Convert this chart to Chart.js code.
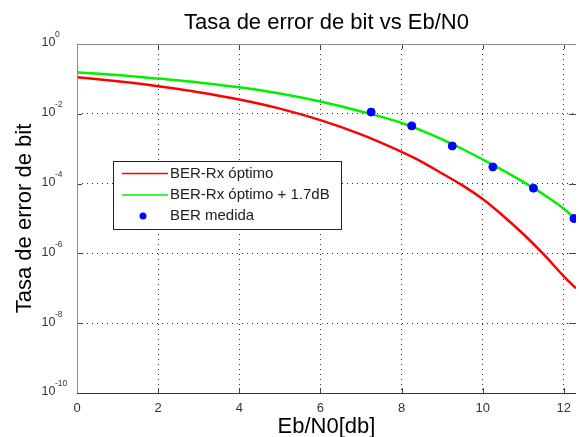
<!DOCTYPE html>
<html>
<head>
<meta charset="utf-8">
<title>Tasa de error de bit vs Eb/N0</title>
<script src="https://cdn.jsdelivr.net/npm/chart.js@4.4.0/dist/chart.umd.min.js"></script>
<style>
  html, body { margin: 0; padding: 0; background: #fff; overflow: hidden; }
</style>
</head>
<body>
<canvas id="ber-chart" width="581" height="437"></canvas>
<script>
// values
const ebn0 = [0, 1, 2, 3, 4, 5, 6, 7, 8, 8.5, 9, 9.5, 10, 10.5, 11, 11.5, 12, 12.3];
const berOptimo = [0.112, 0.0851, 0.0617, 0.0417, 0.0257, 0.0141, 0.0066, 0.00257, 8.1e-4, 4.2e-4, 1.95e-4, 8.9e-5, 3.6e-5, 1.2e-5, 3.6e-6, 9.5e-7, 2.2e-7, 1.0e-7];
const berOptimo17 = [0.155, 0.129, 0.102, 0.0794, 0.0575, 0.0380, 0.0224, 0.0117, 0.0055, 0.0033, 0.00186, 9.8e-4, 4.9e-4, 2.4e-4, 1.12e-4, 4.9e-5, 1.9e-5, 9.3e-6];
const ebn0Medida = [7.25, 8.25, 9.25, 10.25, 11.25, 12.25];
const berMedida = [0.0112, 4.5e-3, 1.2e-3, 3.0e-4, 7.4e-5, 1.0e-5];
const xTicks = [0, 2, 4, 6, 8, 10, 12];
const yTickExp = [0, -2, -4, -6, -8, -10];
const seriesNames = ['BER-Rx óptimo', 'BER-Rx óptimo + 1.7dB', 'BER medida'];
const chartTitle = 'Tasa de error de bit vs Eb/N0';

const FONT = '"Liberation Sans", Arial, sans-serif';
Chart.defaults.font.family = FONT;

const toPoints = (xs, ys) => xs.map((v, i) => ({x: v, y: ys[i]}));

// title over the axes, box, inward ticks, y labels with exponent, legend inside the plot
const matlabFrame = {
  id: 'matlabFrame',
  afterDraw(chart) {
    const {ctx, chartArea: a, scales: {x, y}} = chart;
    ctx.save();

    ctx.fillStyle = '#000';
    ctx.font = '22px ' + FONT;
    ctx.textAlign = 'center';
    ctx.textBaseline = 'middle';
    ctx.fillText(chartTitle, (a.left + a.right) / 2, a.top - 21.5);

    ctx.strokeStyle = '#444';
    ctx.lineWidth = 1;
    ctx.beginPath();
    xTicks.forEach(v => {
      const px = Math.round(x.getPixelForValue(v)) + 0.5;
      ctx.moveTo(px, a.bottom); ctx.lineTo(px, a.bottom - 5);
      ctx.moveTo(px, a.top); ctx.lineTo(px, a.top + 5);
    });
    yTickExp.forEach(e => {
      const py = Math.round(y.getPixelForValue(Math.pow(10, e))) + 0.5;
      ctx.moveTo(a.left, py); ctx.lineTo(a.left + 5, py);
      ctx.moveTo(a.right, py); ctx.lineTo(a.right - 7, py);
    });
    ctx.stroke();

    ctx.strokeStyle = '#8a8a8a';
    ctx.beginPath();
    ctx.moveTo(a.left + 0.5, a.bottom);
    ctx.lineTo(a.left + 0.5, a.top + 0.5);
    ctx.lineTo(a.right, a.top + 0.5);
    ctx.stroke();
    ctx.strokeStyle = '#333';
    ctx.beginPath();
    ctx.moveTo(a.left, a.bottom + 0.5);
    ctx.lineTo(a.right, a.bottom + 0.5);
    ctx.stroke();

    // y tick labels 10^n
    ctx.fillStyle = '#333';
    ctx.textAlign = 'left';
    ctx.textBaseline = 'middle';
    yTickExp.forEach(e => {
      const py = y.getPixelForValue(Math.pow(10, e));
      ctx.font = '12.5px ' + FONT;
      ctx.fillText('10', a.left - 35.5, py - 1);
      ctx.font = '8.5px ' + FONT;
      ctx.fillText(String(e), a.left - 22, py - 9);
    });

    // legend
    const bx = a.left + 36, by = a.top + 117, bw = 228, bh = 68;
    ctx.fillStyle = '#fff';
    ctx.fillRect(bx, by, bw, bh);
    ctx.strokeStyle = '#222';
    ctx.strokeRect(bx + 0.5, by + 0.5, bw, bh);
    const rows = [12.5, 34, 55];
    chart.data.datasets.forEach((ds, i) => {
      const ry = by + rows[i];
      if (ds.showLine === false) {
        ctx.fillStyle = ds.backgroundColor;
        ctx.beginPath();
        ctx.arc(bx + 30, ry, 3.5, 0, Math.PI * 2);
        ctx.fill();
      } else {
        ctx.strokeStyle = ds.borderColor;
        ctx.lineWidth = 1.5;
        ctx.beginPath();
        ctx.moveTo(bx + 9, ry); ctx.lineTo(bx + 55, ry);
        ctx.stroke();
      }
      ctx.fillStyle = '#222';
      ctx.font = '15px ' + FONT;
      ctx.textAlign = 'left';
      ctx.textBaseline = 'middle';
      ctx.fillText(ds.label, bx + 57, ry);
    });
    ctx.restore();
  }
};

new Chart(document.getElementById('ber-chart'), {
  type: 'line',
  data: {
    datasets: [{
      label: seriesNames[0],
      data: toPoints(ebn0, berOptimo),
      borderColor: '#ff0000',
      borderWidth: 2.5,
      pointRadius: 0,
      cubicInterpolationMode: 'monotone',
      order: 2
    }, {
      label: seriesNames[1],
      data: toPoints(ebn0, berOptimo17),
      borderColor: '#00f000',
      borderWidth: 2.5,
      pointRadius: 0,
      cubicInterpolationMode: 'monotone',
      order: 1
    }, {
      label: seriesNames[2],
      data: toPoints(ebn0Medida, berMedida),
      showLine: false,
      backgroundColor: '#0000ff',
      borderColor: '#0000ff',
      pointRadius: 4,
      pointBorderWidth: 1,
      order: 0
    }]
  },
  options: {
    responsive: false,
    animation: false,
    devicePixelRatio: 1,
    layout: { padding: { top: 44, left: 0, right: 0, bottom: 0 } },
    plugins: {
      legend: { display: false },
      tooltip: { enabled: false },
      title: { display: false }
    },
    scales: {
      x: {
        type: 'linear',
        min: 0,
        max: 12.3,
        afterBuildTicks: s => { s.ticks = xTicks.map(v => ({value: v})); },
        afterFit: s => { s.height = 44; },
        ticks: { color: '#333', font: { size: 13 }, padding: 8 },
        grid: { color: '#333', lineWidth: 1, drawTicks: false },
        border: { display: false, dash: [1, 4] },
        title: {
          display: true,
          text: 'Eb/N0[db]',
          color: '#000',
          font: { size: 22, lineHeight: 1 },
          padding: { top: 0, bottom: -1 }
        }
      },
      y: {
        type: 'logarithmic',
        min: 1e-10,
        max: 1,
        afterBuildTicks: s => { s.ticks = yTickExp.map(e => ({value: Math.pow(10, e)})); },
        afterFit: s => { s.width = 77; },
        ticks: { display: false },
        grid: { color: '#333', lineWidth: 1, drawTicks: false },
        border: { display: false, dash: [1, 4] },
        title: {
          display: true,
          text: 'Tasa de error de bit',
          color: '#000',
          font: { size: 22, lineHeight: 1 },
          padding: { top: 14, bottom: 0 }
        }
      }
    }
  },
  plugins: [matlabFrame]
});
</script>
</body>
</html>
